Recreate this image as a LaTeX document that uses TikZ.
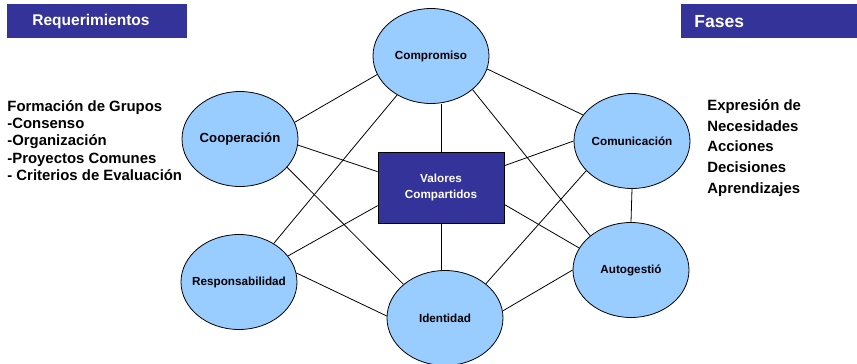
\documentclass[tikz,border=0pt]{standalone}
\usepackage{fontspec}
\setmainfont{Liberation Sans}
\usepackage{tikz}
\usetikzlibrary{positioning,calc,shapes}
\definecolor{celeste}{HTML}{99CCFF}
\definecolor{azul}{HTML}{333399}
\tikzstyle{elip}=[ellipse, draw, fill=celeste, inner ysep=0pt, inner xsep=-8pt, minimum width=116pt, minimum height=95pt, font=\bfseries\fontsize{11.7}{14}\selectfont]
\tikzstyle{caja}=[rectangle, draw, fill=azul, text=white, minimum width=126pt, minimum height=71pt, align=center, font=\bfseries\fontsize{11.7}{16}\selectfont]
\tikzstyle{cab}=[rectangle, fill=azul, text=white, anchor=north west, align=left, minimum height=34pt, inner ysep=0pt]
\tikzstyle{lista}=[anchor=north west, align=left, inner sep=0pt]

\begin{document}
\begin{tikzpicture}[x=1pt, y=-1pt, line width=0.8pt]
				\useasboundingbox (0,0) rectangle (857,364);
				\node[cab, inner xsep=25pt, text width=130pt, font=\bfseries\fontsize{15.5}{18}\selectfont] (req) at (7,4) {Requerimientos};
				\node[cab, inner xsep=13pt, text width=150pt, font=\bfseries\fontsize{17.5}{20}\selectfont] (fases) at (681,4) {Fases};
				
				\node[lista, font=\bfseries\fontsize{14.9}{17.25}\selectfont] (reqs) at (7,100) {Formación de Grupos\\-Consenso\\-Organización\\-Proyectos Comunes\\- Criterios de Evaluación};
				\node[lista, font=\bfseries\fontsize{14.9}{20.7}\selectfont] (fs) at (707,99) {Expresión de\\Necesidades\\Acciones\\Decisiones\\Aprendizajes};
				
				\node[elip] (comp) at (431,56) {Compromiso};
				\node[elip, font=\bfseries\fontsize{13.2}{15}\selectfont] (coop) at (240,139) {Cooperación};
				\node[elip] (comun) at (632,141) {Comunicación};
				\node[caja] (vc) at (441,187.5) {Valores\\Compartidos};
				\node[elip] (resp) at (239,282) {Responsabilidad};
				\node[elip] (ident) at (445,318) {Identidad};
				\node[elip] (auto) at (631,270) {Autogestió};
				
				\draw(comp.199) -- (coop.17);
				\draw(comp.-13) -- (comun.152);
				\draw(vc.north) -- (vc.north |- comp.south);
				\draw(comp.229) -- (resp.48);
				\draw(comp.-39) -- (auto.140);
				\draw(coop.-6) -- (vc.166);
				\draw(coop.-31) -- (ident.141);
				\draw(comun.180) -- (vc.19);
				\draw(comun.213) -- (ident.40);
				\draw(comun.south) -- (auto.north);
				\draw(vc.196) -- (resp.28);
				\draw(vc.south) -- (vc.south |- ident.north);
				\draw(vc.-15) -- (auto.157);
				\draw(resp.9) -- (ident.178);
				\draw(ident.7) -- (auto.180);
			\end{tikzpicture}
\end{document}
